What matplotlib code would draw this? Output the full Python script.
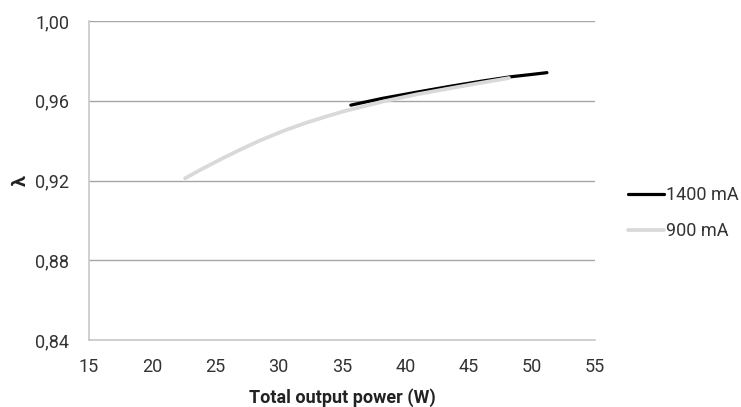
import matplotlib
matplotlib.use("Agg")
import matplotlib.pyplot as plt
from matplotlib.ticker import FuncFormatter

# Data
x_900 = [22.6, 23.8, 25.4, 26.9, 28.5, 30.5, 32.1, 33.7, 35.2, 38.3, 40.9, 43.5, 46.0, 48.2]
y_900 = [0.9211, 0.9253, 0.9306, 0.9353, 0.9400, 0.9452, 0.9488, 0.9520, 0.9548, 0.9597, 0.9632, 0.9662, 0.9690, 0.9714]
x_1400 = [35.7, 38.2, 40.9, 43.5, 46.0, 48.3, 50.0, 51.2]
y_1400 = [0.9578, 0.9612, 0.9643, 0.9672, 0.9698, 0.9720, 0.9732, 0.9741]
label_1400 = "1400 mA"
label_900 = "900 mA"
x_ticks = [15, 20, 25, 30, 35, 40, 45, 50, 55]
y_ticks = [0.84, 0.88, 0.92, 0.96, 1.00]
x_label = "Total output power (W)"
y_label = "λ"

plt.rcParams['font.family'] = ['Roboto', 'DejaVu Sans']

fig = plt.figure(figsize=(7.41, 4.07), dpi=100)
ax = fig.add_axes([0.120, 0.1646, 0.683, 0.7838])

l1, = ax.plot(x_1400, y_1400, color="#000000", lw=2.3, solid_capstyle="round", zorder=3, label=label_1400)
l2, = ax.plot(x_900, y_900, color="#d9d9d9", lw=2.7, solid_capstyle="round", zorder=4, label=label_900)

ax.set_xlim(15, 55)
ax.set_ylim(0.84, 1.00)
ax.set_xticks(x_ticks)
ax.set_yticks(y_ticks)
ax.yaxis.set_major_formatter(FuncFormatter(lambda v, p: f"{v:.2f}".replace(".", ",")))
ax.tick_params(axis="both", length=0, labelsize=13, colors="#333333")
ax.tick_params(axis="y", pad=14)
ax.tick_params(axis="x", pad=13)

ax.grid(axis="y", color="#a6a6a6", lw=1.0)
ax.set_axisbelow(True)
for s in ["top", "right"]:
    ax.spines[s].set_visible(False)
ax.spines["left"].set_color("#c8c8c8")
ax.spines["bottom"].set_color("#c8c8c8")
ax.spines["left"].set_linewidth(1.2)
ax.spines["bottom"].set_linewidth(1.2)

ax.set_xlabel(x_label, fontsize=13, fontweight="bold", color="#222222", labelpad=9)
ax.set_ylabel(y_label, fontsize=14, fontweight="bold", color="#222222", labelpad=4)

leg = ax.legend(handles=[l1, l2], loc="center left", bbox_to_anchor=(1.065, 0.397),
                frameon=False, fontsize=13, handlelength=2.0, handletextpad=0.1,
                labelspacing=1.0, borderpad=0, borderaxespad=0)
for t in leg.get_texts():
    t.set_color("#333333")

fig.savefig("out.png", dpi=100)
